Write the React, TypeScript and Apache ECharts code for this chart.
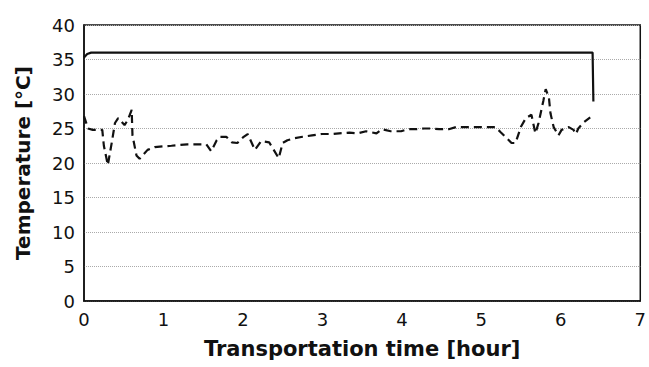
import React, { useEffect, useRef } from "react";
import * as echarts from "echarts";

const xTicks = [0, 1, 2, 3, 4, 5, 6, 7];
const yTicks = [0, 5, 10, 15, 20, 25, 30, 35, 40];

// Solid line: heater / box temperature
const solidTime = [0, 0.04, 0.09, 1.0, 2.0, 3.0, 4.0, 5.0, 6.0, 6.40, 6.41];
const solidTemp = [35.3, 35.8, 36.0, 36.0, 36.0, 36.0, 36.0, 36.0, 36.0, 36.0, 28.9];

// Dashed line: measured temperature
const dashTime = [
  0.0, 0.05, 0.11, 0.23, 0.25, 0.3, 0.35, 0.39, 0.43, 0.51, 0.55, 0.6, 0.61, 0.66, 0.7, 0.8, 0.89,
  0.99, 1.1, 1.2, 1.3, 1.42, 1.54, 1.6, 1.67, 1.71, 1.79, 1.86, 1.93, 2.0, 2.06, 2.15, 2.23, 2.33,
  2.45, 2.5, 2.56, 2.65, 2.75, 2.87, 2.99, 3.11, 3.21, 3.34, 3.44, 3.55, 3.68, 3.75, 3.86, 3.99,
  4.07, 4.18, 4.28, 4.38, 4.47, 4.59, 4.68, 4.78, 4.88, 5.01, 5.07, 5.18, 5.24, 5.32, 5.38, 5.43,
  5.5, 5.56, 5.63, 5.68, 5.72, 5.75, 5.78, 5.81, 5.85, 5.87, 5.91, 5.97, 6.01, 6.1, 6.16, 6.19,
  6.22, 6.29, 6.37,
];
const dashTemp = [
  26.8, 25.0, 24.8, 24.8, 22.5, 19.7, 23.0, 25.8, 26.5, 25.5, 26.2, 27.7, 24.0, 21.1, 20.6, 21.9, 22.3,
  22.4, 22.5, 22.6, 22.7, 22.7, 22.7, 21.7, 23.3, 23.8, 23.8, 23.0, 22.9, 23.7, 24.2, 21.9, 23.2, 23.0,
  20.7, 22.9, 23.3, 23.6, 23.8, 24.0, 24.2, 24.2, 24.3, 24.4, 24.3, 24.6, 24.3, 24.9, 24.6, 24.6,
  24.9, 24.9, 25.0, 25.0, 24.9, 24.9, 25.2, 25.2, 25.2, 25.2, 25.2, 25.2, 24.5, 23.6, 22.9, 22.9,
  25.3, 26.5, 27.0, 24.3, 25.8, 27.4, 29.0, 30.7, 29.5, 27.2, 25.2, 24.0, 24.8, 25.2, 24.8, 24.2,
  25.0, 25.9, 26.6,
];

const FONT = "DejaVu Sans";

export default function App() {
  const ref = useRef<HTMLDivElement>(null);
  useEffect(() => {
    if (!ref.current) return;
    const chart = echarts.init(ref.current, null, { renderer: "svg" });
    chart.setOption({
      animation: false,
      backgroundColor: "#fff",
      grid: {
        left: 84,
        top: 25,
        right: 7,
        bottom: 66,
        show: true,
        borderColor: "#111",
        borderWidth: 1.5,
        backgroundColor: "transparent",
      },
      xAxis: {
        type: "value",
        min: xTicks[0],
        max: xTicks[xTicks.length - 1],
        interval: 1,
        name: "Transportation time [hour]",
        nameLocation: "middle",
        nameGap: 37,
        nameTextStyle: { fontFamily: FONT, fontWeight: "bold", fontSize: 21, color: "#111" },
        axisLine: { show: true, lineStyle: { color: "#111", width: 1.5 } },
        axisTick: { show: false },
        splitLine: { show: false },
        axisLabel: { fontFamily: FONT, fontSize: 18, color: "#111", margin: 9 },
      },
      yAxis: {
        type: "value",
        min: yTicks[0],
        max: yTicks[yTicks.length - 1],
        interval: 5,
        name: "Temperature [°C]",
        nameLocation: "middle",
        nameGap: 51,
        nameTextStyle: { fontFamily: FONT, fontWeight: "bold", fontSize: 20, color: "#111" },
        axisLine: { show: true, lineStyle: { color: "#111", width: 1.5 } },
        axisTick: { show: false },
        splitLine: { show: true, lineStyle: { color: "#aaa", type: "dotted", width: 1 } },
        axisLabel: { fontFamily: FONT, fontSize: 18, color: "#111", margin: 9 },
      },
      series: [
        {
          type: "line",
          data: solidTime.map((t, i) => [t, solidTemp[i]]),
          showSymbol: false,
          lineStyle: { color: "#111", width: 2.2, type: "solid" },
        },
        {
          type: "line",
          data: dashTime.map((t, i) => [t, dashTemp[i]]),
          showSymbol: false,
          lineStyle: { color: "#111", width: 2.2, type: [8, 5] },
        },
      ],
    });
    return () => chart.dispose();
  }, []);
  return <div ref={ref} style={{ width: 649, height: 367, position: "absolute", left: 0, top: 0 }} />;
}
